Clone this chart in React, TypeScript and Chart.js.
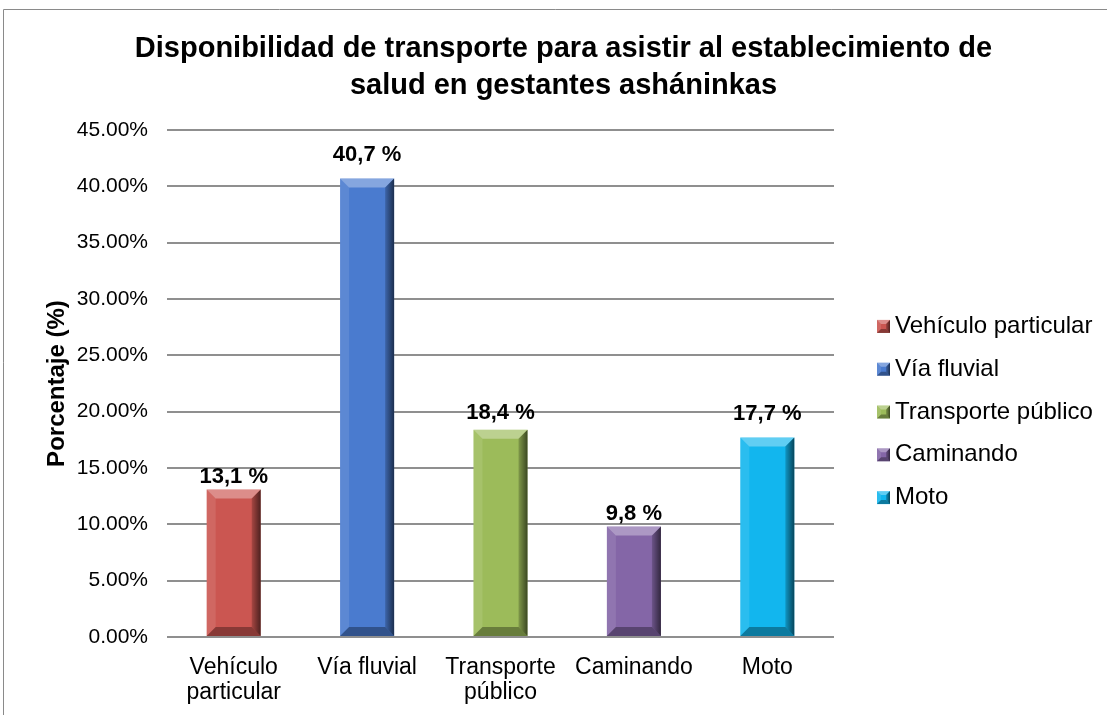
import React, { useEffect, useRef } from 'react';
import { Chart, registerables, layouts } from 'chart.js';

Chart.register(...registerables);

const titleLines = [
  'Disponibilidad de transporte para asistir al establecimiento de',
  'salud en gestantes asháninkas',
];
const categories = [
  ['Vehículo', 'particular'],
  ['Vía fluvial'],
  ['Transporte', 'público'],
  ['Caminando'],
  ['Moto'],
];
const legendLabels = ['Vehículo particular', 'Vía fluvial', 'Transporte público', 'Caminando', 'Moto'];
const values = [13.1, 40.7, 18.4, 9.8, 17.7];
const barColors = ['#CB5651', '#4A7BCF', '#9CBB5A', '#8466A7', '#12B6EE'];
const yAxisTitle = 'Porcentaje (%)';
const yMin = 0;
const yMax = 45;
const yStep = 5;

const FONT = "'Liberation Sans', Arial, sans-serif";

// vertical gap (px) between bar top and label centre, as placed in the reference
const labelGaps = [12, 24, 17, 13, 24];

const poly = (ctx: CanvasRenderingContext2D, pts: number[][], fill: any) => {
  ctx.beginPath();
  ctx.moveTo(pts[0][0], pts[0][1]);
  for (let i = 1; i < pts.length; i++) ctx.lineTo(pts[i][0], pts[i][1]);
  ctx.closePath();
  ctx.fillStyle = fill;
  ctx.fill();
};

const bevelBox = (ctx: CanvasRenderingContext2D, l: number, t: number, r: number, b: number, bvMax: number) => {
  const bv = Math.min(bvMax, (b - t) / 2, (r - l) / 2);
  poly(ctx, [[l, t], [l + bv, t + bv], [l + bv, b - bv], [l, b]], 'rgba(255,255,255,0.10)');
  poly(ctx, [[l, t], [r, t], [r - bv, t + bv], [l + bv, t + bv]], 'rgba(255,255,255,0.33)');
  const gr = ctx.createLinearGradient(r - bv, 0, r, 0);
  gr.addColorStop(0, 'rgba(0,0,0,0.18)');
  gr.addColorStop(1, 'rgba(0,0,0,0.62)');
  poly(ctx, [[r, t], [r, b], [r - bv, b - bv], [r - bv, t + bv]], gr);
  poly(ctx, [[l, b], [r, b], [r - bv, b - bv], [l + bv, b - bv]], 'rgba(0,0,0,0.33)');
};

const barDecor = {
  id: 'barDecor',
  afterDatasetsDraw(chart: any) {
    const ctx = chart.ctx;
    const meta = chart.getDatasetMeta(0);
    ctx.save();
    meta.data.forEach((el: any, i: number) => {
      const { x, y, base, width } = el.getProps(['x', 'y', 'base', 'width'], true);
      const l = x - width / 2;
      const r = x + width / 2;
      const t = Math.min(y, base);
      const b = Math.max(y, base);
      bevelBox(ctx, l, t, r, b, 9);
      ctx.fillStyle = '#000';
      ctx.font = `bold 22px ${FONT}`;
      ctx.textAlign = 'center';
      ctx.textBaseline = 'middle';
      const txt = values[i].toFixed(1).replace('.', ',') + ' %';
      ctx.fillText(txt, x, t - labelGaps[i]);
    });
    ctx.restore();
  },
};

const frameAndLegend = {
  id: 'frameAndLegend',
  beforeDraw(chart: any) {
    const ctx = chart.ctx;
    ctx.save();
    ctx.strokeStyle = '#8a8a8a';
    ctx.lineWidth = 1;
    ctx.beginPath();
    ctx.moveTo(3.5, chart.height);
    ctx.lineTo(3.5, 9.5);
    ctx.lineTo(chart.width, 9.5);
    ctx.stroke();
    ctx.restore();
  },
  afterDraw(chart: any) {
    const ctx = chart.ctx;
    const ca = chart.chartArea;
    const mid = (ca.top + ca.bottom) / 2 + 28.5;
    const step = 42.8;
    ctx.save();
    legendLabels.forEach((lab, i) => {
      const cy = mid + (i - 2) * step;
      const bx = ca.right + 43;
      const s = 13;
      ctx.fillStyle = barColors[i];
      ctx.fillRect(bx, cy - s / 2, s, s);
      bevelBox(ctx, bx, cy - s / 2, bx + s, cy + s / 2, 4);
      ctx.fillStyle = '#000';
      ctx.font = `24px ${FONT}`;
      ctx.textAlign = 'left';
      ctx.textBaseline = 'middle';
      ctx.fillText(lab, ca.right + 61, cy);
    });
    ctx.restore();
  },
};

const rightSpacer = {
  id: 'rightSpacer',
  beforeInit(chart: any) {
    const box: any = {
      position: 'right',
      weight: 100,
      fullSize: false,
      options: {},
      left: 0,
      top: 0,
      right: 0,
      bottom: 0,
      width: 0,
      height: 0,
      isHorizontal() {
        return false;
      },
      update(maxWidth: number, maxHeight: number) {
        this.width = 273;
        this.height = maxHeight;
      },
      draw() {},
    };
    layouts.addBox(chart, box);
  },
};

export default function App() {
  const ref = useRef<HTMLCanvasElement | null>(null);

  useEffect(() => {
    document.body.style.margin = '0';
    if (!ref.current) return;
    const chart = new Chart(ref.current, {
      type: 'bar',
      data: {
        labels: categories,
        datasets: [
          {
            data: values,
            backgroundColor: barColors,
            borderWidth: 0,
            categoryPercentage: 1,
            barPercentage: 0.405,
          },
        ],
      },
      options: {
        responsive: false,
        animation: false,
        layout: { padding: { left: 20, top: 0, right: 0, bottom: 0 } },
        plugins: {
          legend: { display: false },
          tooltip: { enabled: false },
          title: {
            display: true,
            text: titleLines,
            color: '#000',
            font: { family: FONT, size: 29, weight: 'bold', lineHeight: 1.28 },
            padding: { top: 30.5, bottom: 25.3 },
          },
        },
        scales: {
          x: {
            grid: { display: false },
            border: { display: false },
            ticks: {
              color: '#000',
              font: { family: FONT, size: 23, lineHeight: 1.05 },
              padding: 11,
              maxRotation: 0,
              autoSkip: false,
            },
            afterFit(scale: any) {
              scale.height = 78;
            },
          },
          y: {
            min: yMin,
            max: yMax,
            ticks: {
              stepSize: yStep,
              padding: 19,
              color: '#000',
              font: { family: FONT, size: 21 },
              callback: (v: any) => Number(v).toFixed(2) + '%',
            },
            grid: { color: '#8f8f8f', lineWidth: 2, drawTicks: false },
            border: { display: false },
            title: {
              display: true,
              text: yAxisTitle,
              color: '#000',
              font: { family: FONT, size: 24, weight: 'bold' },
              padding: { top: 22.6, bottom: 0 },
            },
            afterFit(scale: any) {
              scale.width = 147;
            },
          },
        },
      },
      plugins: [rightSpacer, frameAndLegend, barDecor],
    } as any);
    return () => chart.destroy();
  }, []);

  return (
    <div style={{ position: 'absolute', left: 0, top: 0, width: 1107, height: 715, background: '#fff' }}>
      <canvas ref={ref} width={1107} height={715} />
    </div>
  );
}
